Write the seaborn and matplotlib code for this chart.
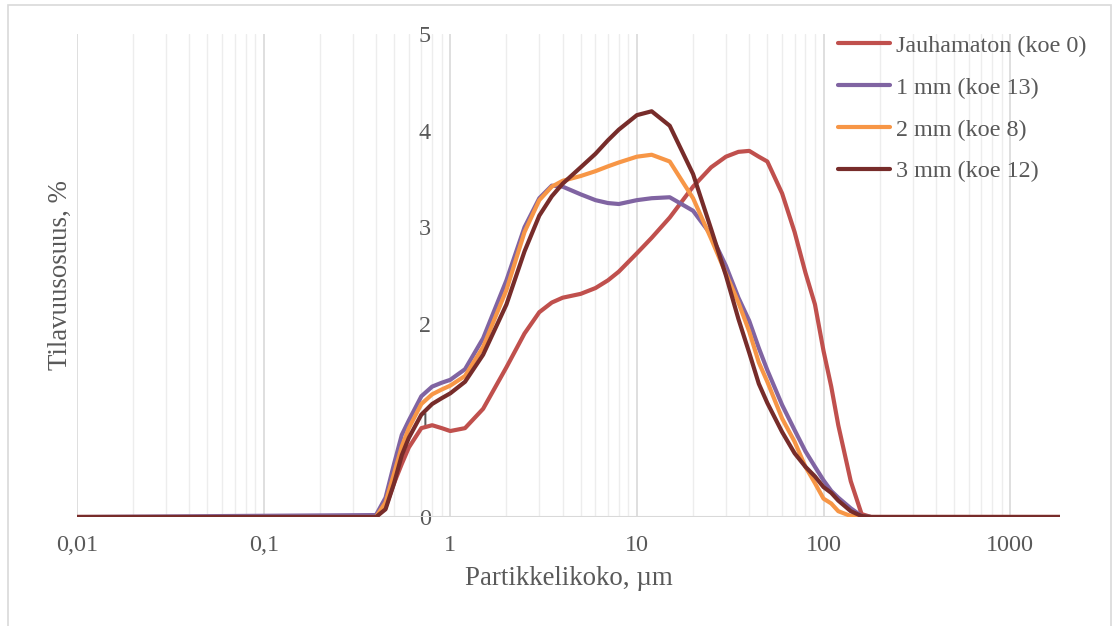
import numpy as np
import pandas as pd
import matplotlib
matplotlib.use("Agg")
import matplotlib.pyplot as plt
import seaborn as sns
from matplotlib.ticker import FixedLocator, NullFormatter
from matplotlib.patches import Rectangle

# ---- data ----
size_um = [0.01, 0.4, 0.45, 0.5, 0.55, 0.6, 0.7, 0.8, 0.9, 1, 1.2, 1.5, 2, 2.5, 3, 3.5, 4,
           5, 6, 7, 8, 10, 12, 15, 20, 25, 30, 35, 40, 45, 50, 60, 70, 80, 90, 100,
           110, 120, 140, 160, 180, 2000]
jauhamaton = [0, 0, 0.10, 0.35, 0.55, 0.72, 0.92, 0.95, 0.92, 0.89, 0.92, 1.12, 1.55,
              1.90, 2.12, 2.22, 2.27, 2.31, 2.37, 2.45, 2.54, 2.73, 2.89, 3.10, 3.42,
              3.62, 3.73, 3.78, 3.79, 3.73, 3.68, 3.35, 2.95, 2.53, 2.20, 1.72, 1.35,
              0.95, 0.37, 0.03, 0, 0]
mm1 = [0, 0.02, 0.20, 0.55, 0.85, 1.00, 1.25, 1.35, 1.39, 1.42, 1.53, 1.85, 2.45, 3.00,
       3.30, 3.43, 3.42, 3.34, 3.28, 3.25, 3.24, 3.28, 3.30, 3.31, 3.17, 2.92,
       2.60, 2.27, 2.03, 1.75, 1.52, 1.16, 0.90, 0.68, 0.52, 0.38, 0.27, 0.20, 0.09,
       0.01, 0, 0]
mm2 = [0, 0, 0.15, 0.45, 0.73, 0.92, 1.17, 1.27, 1.32, 1.36, 1.46, 1.76, 2.35, 2.95,
       3.28, 3.42, 3.48, 3.53, 3.58, 3.63, 3.67, 3.73, 3.75, 3.68, 3.30, 2.88,
       2.52, 2.22, 1.92, 1.60, 1.40, 1.02, 0.78, 0.52, 0.35, 0.19, 0.14, 0.06, 0.01,
       0, 0, 0]
mm3 = [0, 0, 0.08, 0.35, 0.64, 0.82, 1.06, 1.17, 1.23, 1.28, 1.40, 1.68, 2.20, 2.75,
       3.12, 3.32, 3.45, 3.62, 3.76, 3.90, 4.01, 4.16, 4.20, 4.05, 3.55, 2.98,
       2.50, 2.05, 1.70, 1.38, 1.18, 0.88, 0.66, 0.52, 0.42, 0.31, 0.25, 0.17, 0.06,
       0.01, 0, 0]

series_names = ["Jauhamaton (koe 0)", "1 mm (koe 13)", "2 mm (koe 8)", "3 mm (koe 12)"]
colors = ["#C0504D", "#8064A2", "#F79646", "#772C2A"]
x_ticks = [0.01, 0.1, 1, 10, 100, 1000]
x_tick_labels = ["0,01", "0,1", "1", "10", "100", "1000"]
y_ticks = [0, 1, 2, 3, 4, 5]

df = pd.DataFrame({"x": size_um * 4,
                   "y": jauhamaton + mm1 + mm2 + mm3,
                   "s": sum([[n] * len(size_um) for n in series_names], [])})

sns.set_theme(style="white")
plt.rcParams["font.family"] = ["Liberation Serif", "DejaVu Serif"]
text_col = "#595959"
tick_fs = 17.4
title_fs = 19.4

fig = plt.figure(figsize=(11.13, 6.26), dpi=100)
W, H = 1113, 626
AX_W = 1060 - 77
AX_H = 517 - 34
ax = fig.add_axes([77 / W, 1 - 517 / H, AX_W / W, AX_H / H])

sns.lineplot(data=df, x="x", y="y", hue="s", palette=colors, hue_order=series_names,
             linewidth=3, ax=ax, legend=False, sort=False, estimator=None, zorder=3)
for ln in ax.lines:
    ln.set_solid_capstyle("round")
    ln.set_solid_joinstyle("round")

ax.set_xscale("log")
ax.set_xlim(0.01, 1850)
ax.set_ylim(0, 5)

# gridlines
minor = [m * 10.0 ** e for e in range(-2, 4) for m in range(2, 10)]
for v in minor:
    if v < 1850:
        ax.axvline(v, color="#EDEDED", lw=1, zorder=0)
for v in x_ticks:
    ax.axvline(v, color="#D9D9D9", lw=1.2, zorder=0.5)
ax.axhline(0, color="#D9D9D9", lw=1.5, zorder=1)

ax.xaxis.set_major_locator(FixedLocator(x_ticks))
ax.xaxis.set_minor_locator(FixedLocator([]))
ax.xaxis.set_minor_formatter(NullFormatter())
ax.set_xticklabels(x_tick_labels)
ax.set_yticks(y_ticks)
ax.set_yticklabels([str(v) for v in y_ticks])
ax.tick_params(axis="x", length=0, pad=13, labelsize=tick_fs, labelcolor=text_col)
ax.tick_params(axis="y", length=0, pad=14, labelsize=tick_fs, labelcolor=text_col)
ax.spines["left"].set_position(("data", 1))
for sp in ax.spines.values():
    sp.set_visible(False)
ax.grid(False)

ax.set_xlabel("Partikkelikoko, µm", fontsize=title_fs, color=text_col)
ax.set_ylabel("Tilavuusosuus, %", fontsize=title_fs, color=text_col)
ax.xaxis.set_label_coords(0.5, (517 - 566) / AX_H)
ax.yaxis.set_label_coords((73 - 77) / AX_W, 0.5)

# legend
handles = [plt.Line2D([], [], color=c, lw=3, solid_capstyle="round") for c in colors]
fig.legend(handles, series_names, loc="upper left",
           bbox_to_anchor=(828 / W, 1 - 25 / H), frameon=False,
           fontsize=tick_fs, labelcolor=text_col, handlelength=2.15, handletextpad=0.25,
           labelspacing=0.83, borderaxespad=0)

# figure border
fig.patches.append(Rectangle((8 / W, -0.05), (1111 - 8) / W, 1.05 - 5 / H,
                             transform=fig.transFigure, fill=False,
                             edgecolor="#D9D9D9", lw=1.2))

fig.savefig("out.png", dpi=100)
